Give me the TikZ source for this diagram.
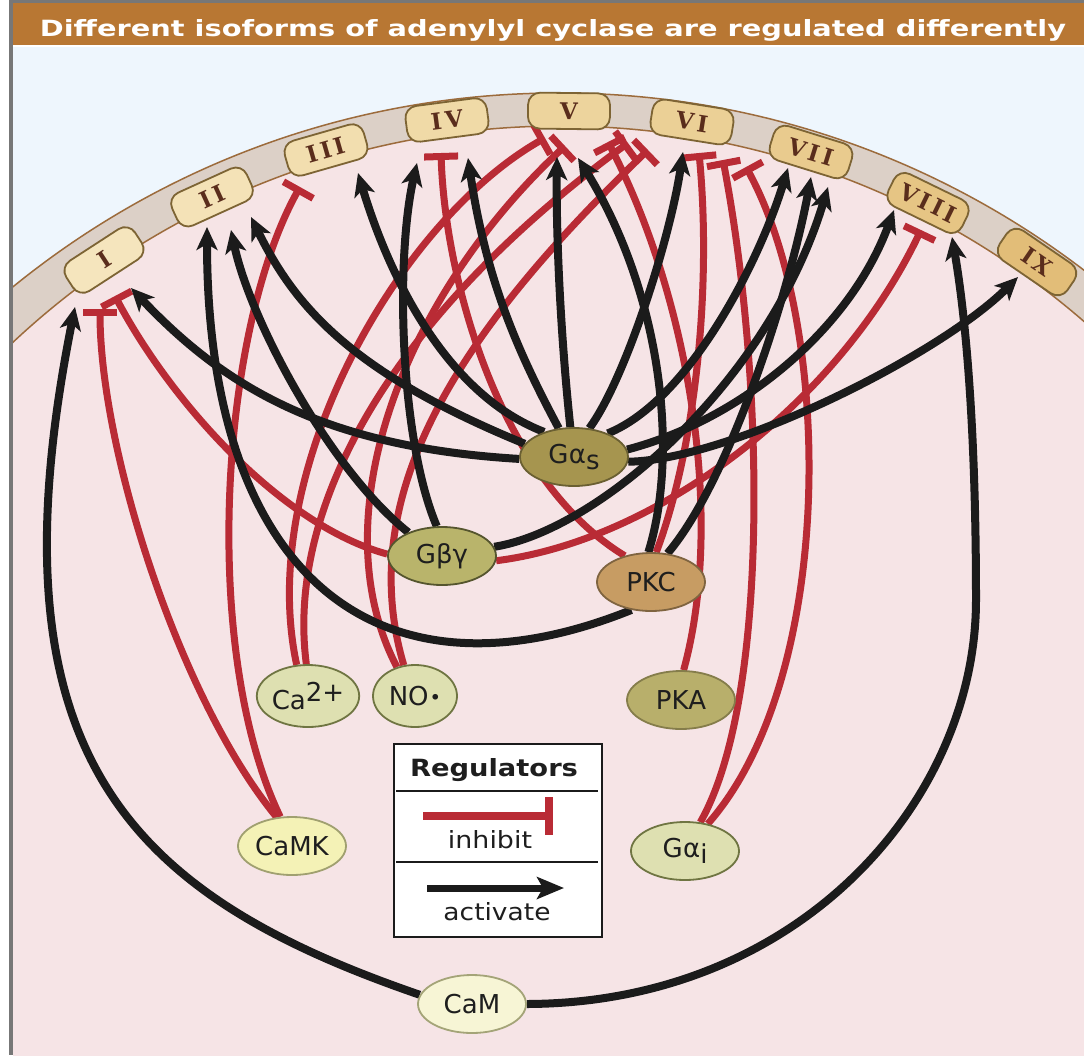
\documentclass[tikz,border=0pt]{standalone}
\usepackage{fontspec}
\setmainfont{DejaVu Sans}
\newfontfamily\isofont{DejaVu Serif}[LetterSpace=15]
\usetikzlibrary{arrows.meta,shapes.geometric}
\pgfdeclarelayer{bg}
\pgfdeclarelayer{edges}
\pgfsetlayers{bg,edges,main}
\definecolor{pinkbg}{HTML}{F6E4E6}
\definecolor{bluebg}{HTML}{EEF6FD}
\definecolor{bandfill}{HTML}{DCD0C7}
\definecolor{bandedge}{HTML}{9C6B3C}
\definecolor{hdr}{HTML}{B87733}
\definecolor{frame}{HTML}{777777}
\definecolor{rd}{HTML}{B92B35}
\definecolor{blk}{HTML}{1B1B1B}
\definecolor{isoedge}{HTML}{7D6434}
\definecolor{isotext}{HTML}{5A2D1C}
\definecolor{txt}{HTML}{1E1E1E}
\definecolor{isoA}{HTML}{F5E5BD}
\definecolor{isoB}{HTML}{F4E2B7}
\definecolor{isoC}{HTML}{F2DEAF}
\definecolor{isoD}{HTML}{F0DAA7}
\definecolor{isoE}{HTML}{EDD49D}
\definecolor{isoF}{HTML}{EBD096}
\definecolor{isoG}{HTML}{E9CB8E}
\definecolor{isoH}{HTML}{E6C584}
\definecolor{isoJ}{HTML}{E2BD78}
\definecolor{gsF}{HTML}{A6954F}
\definecolor{gsE}{HTML}{6A5F32}
\definecolor{gbF}{HTML}{B9B46B}
\definecolor{gbE}{HTML}{55552E}
\definecolor{pkcF}{HTML}{C79C63}
\definecolor{pkcE}{HTML}{7F6440}
\definecolor{lgF}{HTML}{DEE0B1}
\definecolor{lgE}{HTML}{6F7542}
\definecolor{pkaF}{HTML}{B8AF6B}
\definecolor{pkaE}{HTML}{857D4B}
\definecolor{camkF}{HTML}{F4F2B6}
\definecolor{camkE}{HTML}{A0A070}
\definecolor{camF}{HTML}{F7F5D5}
\definecolor{camE}{HTML}{A4A478}
\begin{document}
\begin{tikzpicture}[x=1pt,y=-1pt,
  act/.style={draw=blk, line width=8pt, -{Stealth[length=23pt,width=21pt,inset=6pt]}},
  inh/.style={draw=rd, line width=7pt, -{Bar[width=34pt]}},
  reg/.style={ellipse, draw, line width=1.8pt, minimum width=108pt, minimum height=58pt,
    inner sep=0pt, text=txt, font=\fontsize{26}{26}\selectfont},
  smallreg/.style={reg, minimum width=84pt, minimum height=62pt},
  iso/.style={rectangle, rounded corners=12pt, draw=isoedge, line width=1.8pt,
    minimum width=82pt, minimum height=36pt, inner sep=0pt, text=isotext,
    font=\isofont\bfseries\fontsize{23}{23}\selectfont}]
\useasboundingbox (0,0) rectangle (1084,1055);
% ---------- background ----------
\begin{pgfonlayer}{bg}
\fill[white] (0,0) rectangle (1084,1055);
\fill[bluebg] (13,47) rectangle (1084,1055);
\begin{scope}
\clip (13,47) rectangle (1084,1055);
\fill[bandfill] (559,959) circle (866);
\fill[pinkbg] (560,926) circle (800);
\draw[bandedge, line width=1.5pt] (559,959) circle (866);
\draw[bandedge, line width=1.5pt] (560,926) circle (800);
\end{scope}
\fill[frame] (9,0) rectangle (1084,3);
\fill[frame] (9,0) rectangle (13,1055);
\fill[hdr] (13,3) rectangle (1084,45);
\end{pgfonlayer}
\node[anchor=base, text=white, font=\bfseries] (title) at (553,36)
  {\resizebox{1026pt}{17pt}{Different isoforms of adenylyl cyclase are regulated differently}};
% ---------- isoforms ----------
\node[iso, fill=isoA, rotate=33]   (I)    at (104,260) {I};
\node[iso, fill=isoB, rotate=24.5] (II)   at (212,197) {II};
\node[iso, fill=isoC, rotate=16]   (III)  at (326,150) {III};
\node[iso, fill=isoD, rotate=7.5]  (IV)   at (447,120) {IV};
\node[iso, fill=isoE, rotate=-0.7] (V)    at (569,111) {V};
\node[iso, fill=isoF, rotate=-9]   (VI)   at (692,122) {VI};
\node[iso, fill=isoG, rotate=-17.3](VII)  at (811,152) {VII};
\node[iso, fill=isoH, rotate=-26]  (VIII) at (928,203) {VIII};
\node[iso, fill=isoJ, rotate=-34.4](IX)   at (1037,262) {IX};
% ---------- regulators ----------
\node[reg, fill=gsF, draw=gsE] (Gs) at (574,457) {G\kern0.5ptα\raisebox{-6pt}{s}};
\node[reg, fill=gbF, draw=gbE] (Gbg) at (442,556) {Gβγ};
\node[reg, fill=pkcF, draw=pkcE] (PKC) at (651,582) {PKC};
\node[smallreg, fill=lgF, draw=lgE] (Ca) at (308,696) {Ca\raisebox{8pt}{2+}};
\node[smallreg, fill=lgF, draw=lgE] (NO) at (415,696) {NO\kern1pt\raisebox{1pt}{\scalebox{0.75}{•}}};
\node[reg, fill=pkaF, draw=pkaE] (PKA) at (681,700) {PKA};
\node[reg, fill=camkF, draw=camkE] (CaMK) at (292,846) {CaMK};
\node[reg, fill=lgF, draw=lgE] (Gai) at (685,851) {G\kern0.5ptα\raisebox{-6pt}{i}};
\node[reg, fill=camF, draw=camE] (CaM) at (472,1004) {CaM};
% ---------- connector ends ----------
\coordinate (tI1) at (75,307);   \coordinate (bI1) at (100,309);
\coordinate (bI2) at (115,296);  \coordinate (tI2) at (131,288);
\coordinate (tII1) at (207,227); \coordinate (tII2) at (231,230); \coordinate (tII3) at (251,217);
\coordinate (bIII) at (300,187); \coordinate (tIII) at (358,173);
\coordinate (tIV1) at (417,163); \coordinate (bIV) at (441,153); \coordinate (tIV2) at (468,158);
\coordinate (bV1) at (545,138);  \coordinate (bV2) at (565,146);
\coordinate (tV1) at (557,157);  \coordinate (tV2) at (578,158);
\coordinate (bL1) at (608,142);  \coordinate (bL2) at (628,143); \coordinate (bL3) at (648,150);
\coordinate (tVI) at (683,152);  \coordinate (bVI1) at (699,153);
\coordinate (bVI2) at (723,160); \coordinate (bVI3) at (746,167);
\coordinate (tVII1) at (788,168); \coordinate (tVII2) at (811,177); \coordinate (tVII3) at (828,187);
\coordinate (tVIII1) at (894,210); \coordinate (bVIII) at (921,230); \coordinate (tVIII2) at (952,237);
\coordinate (tIX) at (1018,277);
\coordinate (camR) at (976,600);
% ---------- connectors ----------
\begin{pgfonlayer}{edges}
% red (inhibit)
\draw[inh] (CaMK.118) .. controls (180,700) and (100,450) .. (bI1);
\draw[inh] (CaMK.112) .. controls (200,650) and (220,330) .. (bIII);
\draw[inh] (Gbg.178) .. controls (280,525) and (170,400) .. (bI2);
\draw[inh] (Gbg.-5) .. controls (660,540) and (840,400) .. (bVIII);
\draw[inh] (PKC.135) .. controls (500,480) and (445,280) .. (bIV);
\draw[inh] (PKC.80) .. controls (695,450) and (712,290) .. (bVI1);
\draw[inh] (Ca.110) .. controls (255,470) and (400,220) .. (bV1);
\draw[inh] (Ca.93) .. controls (285,500) and (400,310) .. (bL2);
\draw[inh] (NO.122) .. controls (320,520) and (400,300) .. (bV2);
\draw[inh] (NO.110) .. controls (355,500) and (450,340) .. (bL3);
\draw[inh] (PKA.85) .. controls (725,520) and (690,300) .. (bL1);
\draw[inh] (Gai.62) .. controls (770,700) and (765,380) .. (bVI2);
\draw[inh] (Gai.50) .. controls (835,680) and (835,330) .. (bVI3);
% black (activate)
\draw[act] (CaM.170) .. controls (130,895) and (-15,757) .. (tI1);
\draw[act] (CaM.east) .. controls (800,1003) and (976,800) .. (camR)
  .. controls (976,450) and (968,330) .. (tVIII2);
\draw[act] (Gs.182) .. controls (320,447) and (222,384) .. (tI2);
\draw[act] (Gs.165) .. controls (352,373) and (295,307) .. (tII3);
\draw[act] (Gs.140) .. controls (440,392) and (385,263) .. (tIII);
\draw[act] (Gs.118) .. controls (518,352) and (486,280) .. (tIV2);
\draw[act] (Gs.97) .. controls (560,330) and (556,230) .. (tV1);
\draw[act] (Gs.62) .. controls (625,380) and (670,240) .. (tVI);
\draw[act] (Gs.35) .. controls (690,400) and (760,260) .. (tVII1);
\draw[act] (Gs.8) .. controls (740,420) and (850,330) .. (tVIII1);
\draw[act] (Gs.-5) .. controls (730,460) and (940,355) .. (tIX);
\draw[act] (Gbg.145) .. controls (330,470) and (250,320) .. (tII2);
\draw[act] (Gbg.100) .. controls (400,440) and (395,260) .. (tIV1);
\draw[act] (Gbg.10) .. controls (600,530) and (770,380) .. (tVII3);
\draw[act] (PKC.235) .. controls (378,712) and (207,577) .. (tII1);
\draw[act] (PKC.95) .. controls (680,450) and (660,290) .. (tV2);
\draw[act] (PKC.60) .. controls (730,480) and (790,290) .. (tVII2);
\end{pgfonlayer}
% ---------- legend ----------
\node[rectangle, draw=blk, line width=2.5pt, fill=white, minimum width=208pt,
  minimum height=193pt, inner sep=0pt] (leg) at (498,840.5) {};
\coordinate (s1a) at (396,791); \coordinate (s1b) at (598,791);
\coordinate (s2a) at (396,862); \coordinate (s2b) at (598,862);
\draw[blk, line width=2pt] (s1a) -- (s1b);
\draw[blk, line width=2pt] (s2a) -- (s2b);
\node[font=\bfseries, text=txt] (legT) at (494,770) {\resizebox{168pt}{18pt}{Regulators}};
\coordinate (li1) at (423,816); \coordinate (li2) at (553,816);
\draw[rd, line width=8pt, -{Bar[width=38pt]}] (li1) -- (li2);
\node[text=txt, anchor=base] (legI) at (490,848) {\resizebox{84pt}{18pt}{inhibit}};
\coordinate (la1) at (427,888); \coordinate (la2) at (564,888);
\draw[blk, line width=7pt, -{Stealth[length=27pt,width=22pt,inset=6pt]}] (la1) -- (la2);
\node[text=txt, anchor=base] (legA) at (497,920) {\resizebox{107pt}{18pt}{activate}};
\end{tikzpicture}
\end{document}
